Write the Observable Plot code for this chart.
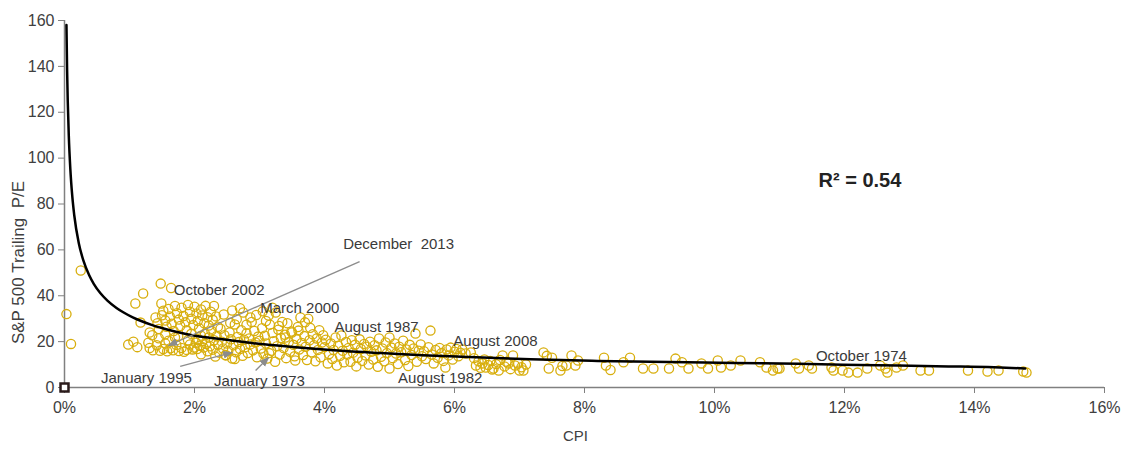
<!DOCTYPE html>
<html>
<head>
<meta charset="utf-8">
<script src="https://cdn.jsdelivr.net/npm/d3@7"></script>
<script src="https://cdn.jsdelivr.net/npm/@observablehq/plot@0.6"></script>
<style>
  html, body { margin: 0; padding: 0; background: #fff; }
  #chart { width: 1125px; height: 450px; }
</style>
</head>
<body>
<div id="chart"></div>
<script>
// ---- Data (CPI in %, S&P 500 trailing P/E) ----
const xTicks = [0, 2, 4, 6, 8, 10, 12, 14, 16];
const yTicks = [0, 20, 40, 60, 80, 100, 120, 140, 160];

const scatterVeryLow = [[0.03,32],[0.1,19],[0.25,51]];

const scatterLow = [
  [0.98,18.7],[1.06,20],[1.12,17.6],[1.29,19.5],[1.31,17.2],[1.36,16.2],[1.42,18.4],[1.47,16],
  [1.52,16.8],[1.55,19.2],[1.58,15.8],[1.63,17.1],[1.67,16.2],[1.72,18.5],[1.76,15.9],[1.8,17.2],
  [1.88,16.4],[1.93,18.8],[1.97,16.6],[1.99,17.4],[1.84,15.6],[1.6,20.4],[1.45,21.5],[1.7,21.8],[1.9,20.6],
  [1.09,36.6],[1.21,41],[1.17,28.3],[1.31,24],[1.43,28],[1.48,45.3],[1.49,36.6],[1.64,43.4],
  [1.5,31.5],[1.52,33.5],[1.55,29.2],[1.57,26.5],[1.6,34.2],[1.62,31],[1.65,27.8],[1.68,24.6],
  [1.7,35.5],[1.73,32.4],[1.76,29.6],[1.78,26.8],[1.8,34.8],[1.83,31.2],[1.86,28.4],[1.88,25],
  [1.9,36],[1.93,33],[1.95,30],[1.98,27.2],[2.0,35.2],[2.03,32.3],[2.05,29],[2.07,25.8],[2.1,34],
  [2.12,31.4],[2.15,28],[2.17,35.6],[2.2,30.6],[2.22,27],[2.25,33],[2.28,29.5],[2.3,35.5],[2.33,31],
  [2.36,26.5],[1.4,30.5],[1.45,25.5],[1.35,22.8],[1.55,23.2],[1.75,22.5],[1.95,23.4],[2.1,22.6]
];

const scatterMid = [
  [2.02,19.5],[2.04,16.8],[2.06,21],[2.08,18.2],[2.1,14.5],[2.12,20.2],[2.14,17.4],[2.16,23.5],
  [2.18,19],[2.2,15.8],[2.22,21.8],[2.24,18],[2.26,24.8],[2.28,16.5],[2.3,20.6],[2.32,13.5],
  [2.34,22.4],[2.36,18.6],[2.38,15.2],[2.4,25.6],[2.42,20],[2.44,17],[2.46,22.8],[2.48,14],
  [2.5,19.2],[2.52,16],[2.54,24],[2.56,21],[2.58,12.6],[2.6,18.4],[2.62,27.5],[2.64,15.4],
  [2.66,22],[2.68,19.8],[2.7,16.8],[2.72,25],[2.74,13.8],[2.76,20.8],[2.78,17.6],[2.8,23.6],
  [2.82,15],[2.84,21.4],[2.86,18.8],[2.88,28.6],[2.9,16.2],[2.92,24.6],[2.94,19.6],[2.96,13.2],
  [2.98,22.2],[2.58,33.6],[2.75,32.7],[2.86,30.5],[2.65,29.8],[2.45,31.8],[2.55,28.2],[2.7,34.6],
  [2.95,31.6],[2.8,27.4],[2.48,14.2],[2.62,12.4],
  [3.0,20.4],[3.02,17],[3.04,25.8],[3.06,14.8],[3.08,22.6],[3.1,19.2],[3.12,12.6],[3.14,31.4],
  [3.16,27.4],[3.18,16],[3.2,23.8],[3.22,20.2],[3.24,11.2],[3.25,32.7],[3.27,18],[3.29,25.2],
  [3.31,14.4],[3.33,21.6],[3.35,28.6],[3.37,17.2],[3.39,23],[3.41,12.8],[3.43,28],[3.45,19.8],
  [3.47,15.6],[3.49,24.4],[3.5,24],[3.52,18.6],[3.54,13.6],[3.55,11.8],[3.57,21.2],[3.59,26.4],
  [3.61,16.6],[3.63,30.5],[3.65,19.4],[3.67,14.2],[3.69,22.4],[3.71,17.8],[3.73,12],[3.75,30],
  [3.77,20.6],[3.78,26],[3.8,15.4],[3.82,23.2],[3.84,18.4],[3.86,11.4],[3.88,21.4],[3.9,16.4],
  [3.92,25],[3.94,13.2],[3.96,19.6],[3.98,22.8],[3.1,29],[3.3,26.8],[3.2,34.8],[3.05,33.2],
  [3.7,28.4],[3.4,21.8],[3.6,24.8],[3.15,15]
];

const scatterUpper = [
  [4.0,17.6],[4.02,20.8],[4.05,10.5],[4.07,14.6],[4.1,19.2],[4.12,12.4],[4.14,16.4],[4.17,21.8],
  [4.19,9.6],[4.21,18.2],[4.24,13.8],[4.26,22.7],[4.28,16],[4.3,11],[4.33,19.8],[4.35,14.4],
  [4.37,17.2],[4.4,11.2],[4.42,20.6],[4.44,15.2],[4.47,18.6],[4.49,9.2],[4.51,13],[4.54,21],
  [4.56,16.8],[4.58,11.6],[4.61,19],[4.63,14],[4.65,17.8],[4.68,10],[4.7,20],[4.72,15.6],
  [4.75,12.2],[4.77,18.4],[4.8,16.2],[4.82,9],[4.84,21.4],[4.87,13.4],[4.89,17],[4.92,11.4],
  [4.94,19.6],[4.96,15],[5.0,21.8],[5.0,8.3],[5.03,17.4],[5.05,12.8],[5.08,19.2],[5.1,14.8],
  [5.13,10.2],[5.15,17.8],[5.18,15.4],[5.21,20.4],[5.24,12],[5.26,16.6],[5.29,9.4],[5.31,18.6],
  [5.34,14.2],[5.37,17],[5.4,23.5],[5.42,11.2],[5.45,16],[5.48,18.8],[5.5,13.6],
  [5.53,15.8],[5.56,12.4],[5.6,17.6],[5.63,24.8],[5.65,14.4],[5.68,10.5],[5.71,16.4],[5.74,13],
  [5.77,17.2],[5.8,15],[5.83,11.6],[5.86,8.7],[5.88,16.6],[5.91,14],[5.94,17.4],[5.97,12.2],
  [6.0,15.6],[6.03,16.8],[6.06,13.6],[6.09,15.2],[6.12,16.6],[6.17,14.8],[6.25,15.3],[6.3,12.8],
  [6.33,9.6],[6.37,11.4],[6.4,8.6],[6.43,10.5],[6.46,12.2],[6.48,8.7],[6.52,9.8],[6.55,11.6],
  [6.58,7.8],[6.6,8.3],[6.64,10.2],[6.68,7.4],[6.7,12],[6.74,14],[6.77,9.2],[6.8,11.2],
  [6.83,10.5],[6.86,8],[6.9,14],[6.93,9.6],[6.98,10.5],[7.03,8.8],[7.06,7.4]
];

const scatterHigh = [
  [7.0,7.4],[7.1,10],[7.37,15.3],[7.42,13.8],[7.45,8.3],[7.5,13],[7.63,7.4],[7.66,9.4],
  [7.72,9.6],[7.8,14],[7.86,9.6],[7.9,11.8],[8.3,13],[8.33,9.6],[8.4,7.6],[8.6,11],[8.7,13],
  [8.9,8.3],[9.06,8.3],[9.3,8.3],[9.4,12.6],[9.5,11],[9.6,8.3],[9.8,10.5],[9.9,8.3],[10.05,11.8],
  [10.1,8.7],[10.25,9.6],[10.4,11.8],[10.7,11],[10.8,8.7],[10.9,7.4],[10.97,8.3],[11.0,8.3],
  [11.25,10.5],[11.3,8.3],[11.45,9.6],[11.5,8.3],[11.8,8.7],[11.83,7.4],[11.97,7.4],[12.06,6.5],
  [12.2,6.5],[12.35,8.3],[12.55,9.6],[12.63,8.3],[12.66,6.5],[12.8,8.7],[12.9,9.6],[13.17,7.4],
  [13.3,7.4],[13.9,7.4],[14.2,7],[14.37,7.4],[14.75,7],[14.8,6.5]
];

const originPoint = [[0, 0]];

// Fitted power-law trend line
const trendCpi = [0.03,0.04,0.05,0.066,0.09,0.12,0.15,0.22,0.29,0.38,0.45,0.55,0.66,0.8,0.91,1.05,1.17,1.35,1.58,1.8,1.99,2.3,2.6,2.9,3.22,3.6,4.14,4.86,5.5,6.2,7.17,8.2,9.3,10.3,11.3,12.5,13.6,14.3,14.78];
const trendPe  = [158,138.4,124.8,109.8,95.1,83.3,75.1,62.9,55.4,48.9,45.2,41.2,37.9,34.7,32.7,30.6,29.1,27.2,25.3,23.8,22.7,21.5,20.4,19.3,18.4,17.4,16.2,15.0,14.1,13.3,12.3,11.6,11.1,10.7,10.3,9.7,9.2,8.8,8.3];

// Annotations
const annLabels = ["December  2013","October 2002","March 2000","August 1987","August 2008","August 1982","October 1974","January 1995","January 1973"];
const annCpi    = [5.14, 2.38, 3.62, 4.8, 6.63, 5.78, 12.26, 1.26, 3.0];
const annPe     = [62.3, 42.3, 34.4, 26.2, 20, 3.9, 13.5, 3.9, 2.6];

// Arrows: [from cpi, from pe] -> [to cpi, to pe]
const arrowFrom = [[4.54, 54.9], [1.78, 9.2], [2.94, 7.4]];
const arrowTo   = [[1.6, 18.3], [2.58, 15.3], [3.14, 13.1]];

const r2Label = "R² = 0.54";
const r2At = [11.6, 90];
const yLabel = "S&P 500 Trailing  P/E";
const yLabelAt = 54.5;
const xLabel = "CPI";

// ---- Build ----
const gold = "#d8ae0c";
const toObj = d => ({cpi: d[0], pe: d[1]});
const scatter = [...scatterVeryLow, ...scatterLow, ...scatterMid, ...scatterUpper, ...scatterHigh].map(toObj);
const trend = trendCpi.map((c, i) => ({cpi: c, pe: trendPe[i]}));
const annotations = annLabels.map((l, i) => ({label: l, cpi: annCpi[i], pe: annPe[i]}));
const arrows = arrowFrom.map((f, i) => ({x1: f[0], y1: f[1], x2: arrowTo[i][0], y2: arrowTo[i][1]}));

function filledArrow(color, context) {
  const doc = (context && context.document) || document;
  const ns = "http://www.w3.org/2000/svg";
  const m = doc.createElementNS(ns, "marker");
  m.setAttribute("viewBox", "-5 -5 10 10");
  m.setAttribute("markerUnits", "userSpaceOnUse");
  m.setAttribute("markerWidth", "10");
  m.setAttribute("markerHeight", "10");
  m.setAttribute("refX", "4");
  m.setAttribute("refY", "0");
  m.setAttribute("orient", "auto");
  m.setAttribute("fill", color);
  m.setAttribute("stroke", "none");
  const p = doc.createElementNS(ns, "path");
  p.setAttribute("d", "M-5,-4L5,0L-5,4Z");
  m.appendChild(p);
  return m;
}

const chart = Plot.plot({
  width: 1125,
  height: 450,
  marginLeft: 64,
  marginRight: 21,
  marginTop: 20,
  marginBottom: 63,
  style: {fontFamily: "'Liberation Sans', Arial, sans-serif", fontSize: "16px", background: "#fff", color: "#404040"},
  x: {domain: [0, 16]},
  y: {domain: [0, 160]},
  marks: [
    Plot.axisX({ticks: xTicks, tickFormat: d => d + "%", tickSize: 6, tickPadding: 8, stroke: "#808080", fill: "#404040", label: null, fontSize: 16}),
    Plot.axisY({ticks: yTicks, tickSize: 6, tickPadding: 4, stroke: "#808080", fill: "#404040", label: null, fontSize: 16}),
    Plot.ruleX([0], {stroke: "#808080", strokeWidth: 1.5}),
    Plot.ruleY([0], {stroke: "#808080", strokeWidth: 1.5}),
    Plot.dot(scatter, {x: "cpi", y: "pe", r: 4.6, stroke: gold, strokeWidth: 1.3, fill: "none"}),
    Plot.line(trend, {x: "cpi", y: "pe", stroke: "#000", strokeWidth: 2.5, curve: "monotone-x"}),
    Plot.link(arrows, {x1: "x1", y1: "y1", x2: "x2", y2: "y2", stroke: "#8c8c8c", strokeWidth: 1.3, markerEnd: filledArrow}),
    Plot.dot(originPoint, {x: d => d[0], y: d => d[1], symbol: "square", r: 4.5, fill: "#fff", stroke: "#2a1a1a", strokeWidth: 2.5}),
    Plot.text(annotations, {x: "cpi", y: "pe", text: "label", fill: "#3a3a3a", fontSize: 15}),
    Plot.text([r2Label], {x: r2At[0], y: r2At[1], text: d => d, textAnchor: "start", fontWeight: "bold", fontSize: 20, fill: "#222"}),
    Plot.text([yLabel], {frameAnchor: "left", y: () => yLabelAt, text: d => d, textAnchor: "middle", rotate: -90, dx: -46, fontSize: 17, fill: "#404040"}),
    Plot.text([xLabel], {frameAnchor: "bottom", text: d => d, dx: -9, dy: 53, fontSize: 15, fill: "#404040"})
  ]
});
document.getElementById("chart").appendChild(chart);
</script>
</body>
</html>
